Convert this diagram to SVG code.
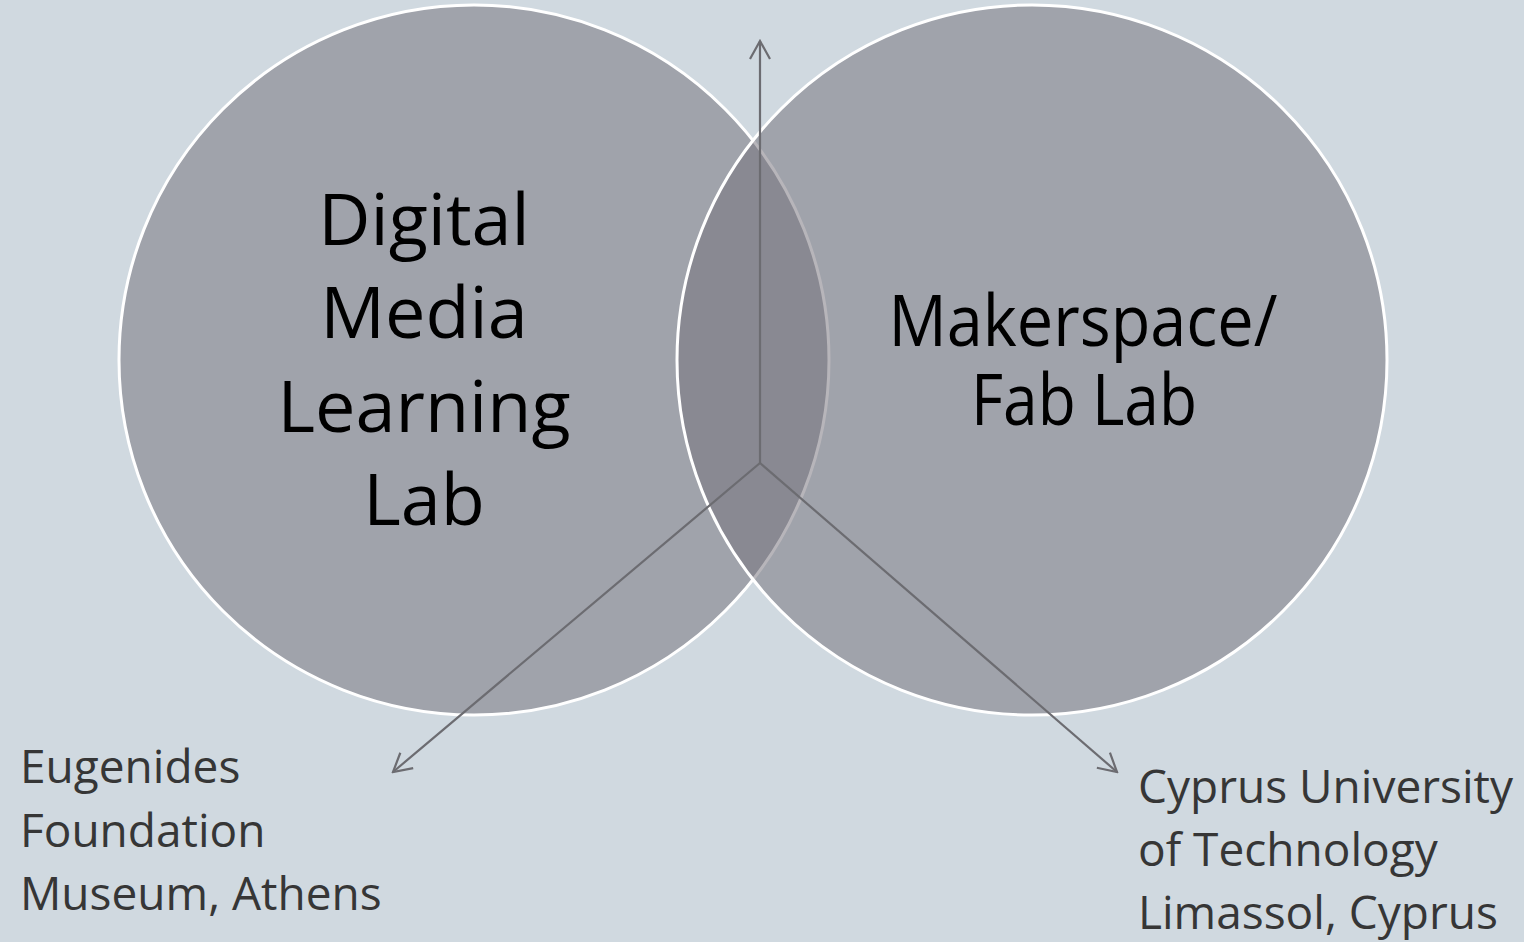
<svg xmlns="http://www.w3.org/2000/svg" width="1524" height="942" viewBox="0 0 1524 942">
  <defs>
    <style>
      .lab { fill: rgb(116,114,122); fill-opacity: 0.52; stroke: #ffffff; stroke-width: 3; }
      .axis { stroke: #6c6c71; stroke-width: 2.2; fill: none; }
      .big { font-family: "Open Sans", "Liberation Sans", sans-serif; font-size: 72px; fill: #000000; text-anchor: middle; }
      .small { font-family: "Open Sans", "Liberation Sans", sans-serif; font-size: 46px; fill: #363636; }
    </style>
    <marker id="head" viewBox="0 0 24 24" refX="22" refY="12" markerWidth="24" markerHeight="24" markerUnits="userSpaceOnUse" orient="auto">
      <path d="M4,2 L22,12 L4,22" fill="none" stroke="#6c6c71" stroke-width="2.2"/>
    </marker>
  </defs>
  <rect width="1524" height="942" fill="#d0d9e0"/>

  <g id="digital-media-lab">
    <circle class="lab" cx="474" cy="360" r="355"/>
    <text class="big"><tspan x="424" y="245">Digital</tspan><tspan x="424" y="338">Media</tspan><tspan x="424" y="432">Learning</tspan><tspan x="424" y="525">Lab</tspan></text>
  </g>

  <g id="makerspace">
    <circle class="lab" cx="1032" cy="360" r="355"/>
    <text class="big" x="1083" y="346" textLength="389" lengthAdjust="spacingAndGlyphs">Makerspace/</text>
    <text class="big" x="1084" y="425" textLength="226" lengthAdjust="spacingAndGlyphs">Fab Lab</text>
  </g>

  <g id="connectors">
    <line class="axis" x1="760" y1="463" x2="760" y2="41" marker-end="url(#head)"/>
    <line class="axis" x1="760" y1="463" x2="393" y2="772" marker-end="url(#head)"/>
    <line class="axis" x1="760" y1="463" x2="1117" y2="772" marker-end="url(#head)"/>
  </g>

  <g id="eugenides">
    <text class="small"><tspan x="20" y="783">Eugenides</tspan><tspan x="20" y="847">Foundation</tspan><tspan x="20" y="910">Museum, Athens</tspan></text>
  </g>

  <g id="cyprus-tech">
    <text class="small"><tspan x="1138" y="803">Cyprus University</tspan><tspan x="1138" y="866">of Technology</tspan><tspan x="1138" y="929">Limassol, Cyprus</tspan></text>
  </g>
</svg>
